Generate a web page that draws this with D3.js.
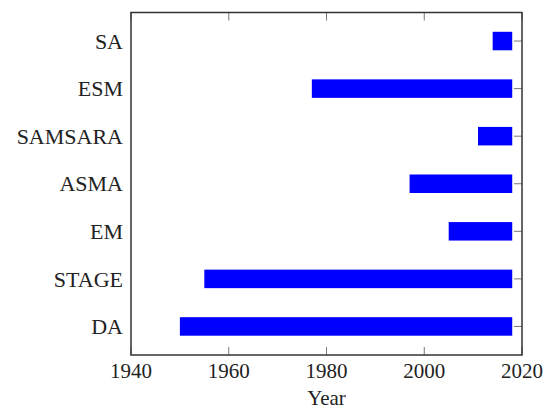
<!DOCTYPE html>
<html>
<head>
<meta charset="utf-8">
<script src="https://cdn.jsdelivr.net/npm/d3@7"></script>
<style>
  body { margin: 0; background: #fff; }
  svg { display: block; }
</style>
</head>
<body>
<svg id="chart" width="547" height="412"></svg>
<script>
// methods (top to bottom) and the years they span
const methods = ["SA", "ESM", "SAMSARA", "ASMA", "EM", "STAGE", "DA"]
const startYears = [2014, 1977, 2011, 1997, 2005, 1955, 1950]
const endYears = [2018, 2018, 2018, 2018, 2018, 2018, 2018]
const yearTicks = [1940, 1960, 1980, 2000, 2020]

const svg = d3.select("#chart")
const plotLeft = 131, plotRight = 522, plotTop = 12.5, plotBottom = 355
const barH = 18.5
const tickLen = 8

const x = d3.scaleLinear().domain([1940, 2020]).range([plotLeft, plotRight])
const y = d3.scalePoint().domain(methods).range([plotTop, plotBottom]).padding(0.6)

const rows = methods.map((m, i) => ({ name: m, start: startYears[i], end: endYears[i] }))

// bars
svg.append("g")
  .selectAll("rect")
  .data(rows)
  .join("rect")
  .attr("x", d => x(d.start))
  .attr("y", d => y(d.name) - barH / 2)
  .attr("width", d => x(d.end) - x(d.start))
  .attr("height", barH)
  .attr("fill", "#0000ff")

// ticks on right side (inward)
svg.append("g")
  .selectAll("line")
  .data(methods)
  .join("line")
  .attr("x1", plotRight - tickLen)
  .attr("x2", plotRight)
  .attr("y1", d => y(d))
  .attr("y2", d => y(d))
  .attr("stroke", "#777")
  .attr("stroke-width", 1)

// bottom and top x ticks (inward)
const xt = svg.append("g")
xt.selectAll(".tb")
  .data(yearTicks)
  .join("line")
  .attr("class", "tb")
  .attr("x1", d => x(d)).attr("x2", d => x(d))
  .attr("y1", plotBottom - tickLen).attr("y2", plotBottom)
  .attr("stroke", "#777")
xt.selectAll(".tt")
  .data(yearTicks)
  .join("line")
  .attr("class", "tt")
  .attr("x1", d => x(d)).attr("x2", d => x(d))
  .attr("y1", plotTop).attr("y2", plotTop + tickLen)
  .attr("stroke", "#777")

// frame
svg.append("rect")
  .attr("x", plotLeft).attr("y", plotTop)
  .attr("width", plotRight - plotLeft).attr("height", plotBottom - plotTop)
  .attr("fill", "none")
  .attr("stroke", "#333")
  .attr("stroke-width", 1.5)

// labels
const font = "'Liberation Serif', 'DejaVu Serif', serif"
svg.append("g")
  .selectAll("text")
  .data(methods)
  .join("text")
  .attr("x", plotLeft - 8)
  .attr("y", d => y(d))
  .attr("dy", "0.35em")
  .attr("text-anchor", "end")
  .attr("font-family", font)
  .attr("font-size", 22)
  .attr("fill", "#222")
  .text(d => d)

svg.append("g")
  .selectAll("text")
  .data(yearTicks)
  .join("text")
  .attr("x", d => x(d))
  .attr("y", 378)
  .attr("text-anchor", "middle")
  .attr("font-family", font)
  .attr("font-size", 21)
  .attr("fill", "#222")
  .text(d => d)

svg.append("text")
  .attr("x", (plotLeft + plotRight) / 2)
  .attr("y", 405)
  .attr("text-anchor", "middle")
  .attr("font-family", font)
  .attr("font-size", 21)
  .attr("fill", "#222")
  .text("Year")
</script>
</body>
</html>
